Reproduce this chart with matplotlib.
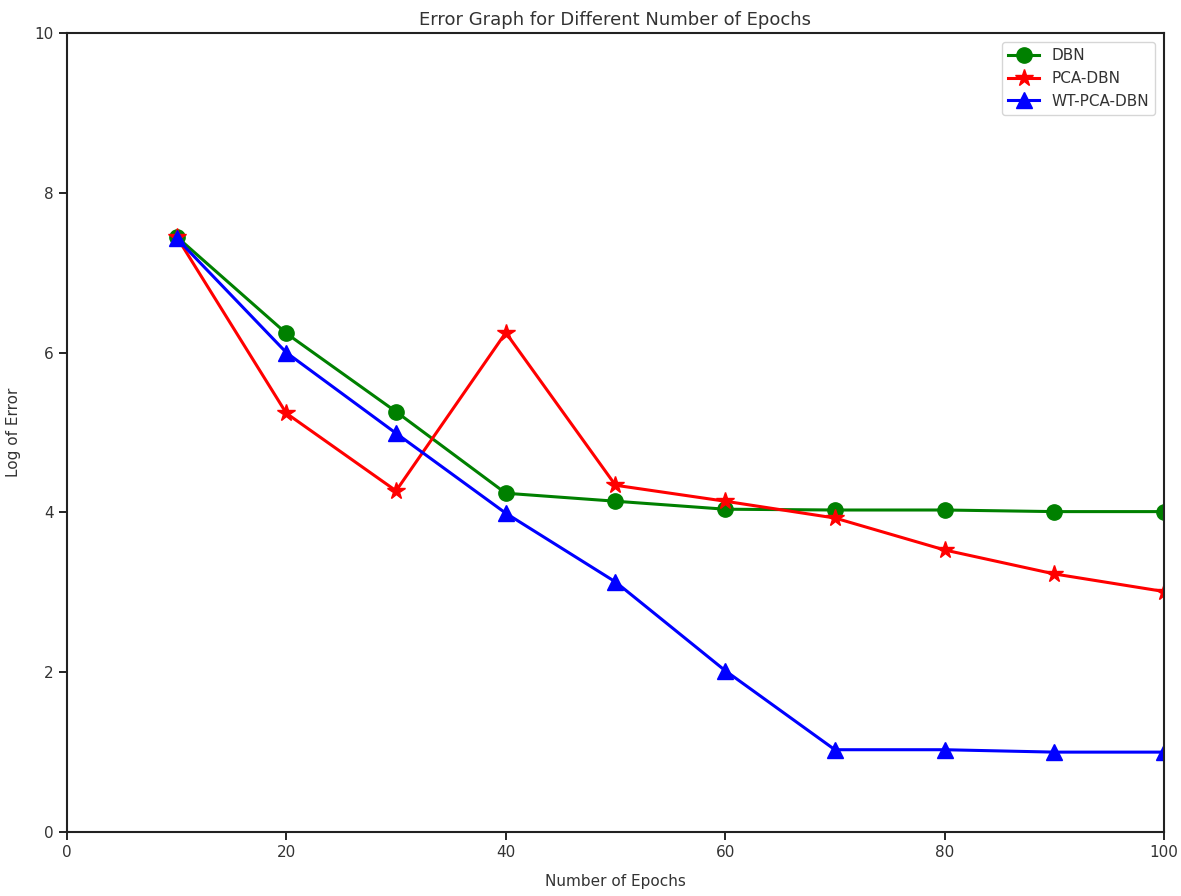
import matplotlib
matplotlib.use("Agg")
import matplotlib.pyplot as plt

epochs = [10, 20, 30, 40, 50, 60, 70, 80, 90, 100]
dbn = [7.45, 6.24, 5.26, 4.24, 4.14, 4.04, 4.03, 4.03, 4.01, 4.01]
pca_dbn = [7.45, 5.24, 4.27, 6.25, 4.34, 4.14, 3.93, 3.53, 3.23, 3.01]
wt_pca_dbn = [7.43, 6.0, 4.99, 3.99, 3.13, 2.02, 1.03, 1.03, 1.0, 1.0]

plt.rcParams['font.family'] = ['DejaVu Sans']
plt.rcParams['text.color'] = '#333333'
plt.rcParams['axes.labelcolor'] = '#333333'
plt.rcParams['xtick.labelcolor'] = '#333333'
plt.rcParams['ytick.labelcolor'] = '#333333'
fig = plt.figure(figsize=(11.81, 8.96), dpi=100)
ax = fig.add_axes([0.0567, 0.0714, 0.9289, 0.8918])

ax.plot(epochs, dbn, color='green', marker='o', markersize=11, linewidth=2.2, label='DBN')
ax.plot(epochs, pca_dbn, color='red', marker='*', markersize=13, linewidth=2.2, label='PCA-DBN')
ax.plot(epochs, wt_pca_dbn, color='blue', marker='^', markersize=11, linewidth=2.2, label='WT-PCA-DBN')

ax.set_xlim(0, 100)
ax.set_ylim(0, 10)
ax.set_xticks([0, 20, 40, 60, 80, 100])
ax.set_yticks([0, 2, 4, 6, 8, 10])
ax.tick_params(labelsize=11, length=6, width=1.2)
for s in ax.spines.values():
    s.set_linewidth(1.5)
    s.set_color('#222222')
ax.set_title('Error Graph for Different Number of Epochs', fontsize=13, pad=6)
ax.set_xlabel('Number of Epochs', fontsize=11, labelpad=10)
ax.set_ylabel('Log of Error', fontsize=11, labelpad=10)
ax.legend(loc='upper right', fontsize=11, borderaxespad=0.6)

fig.savefig('out.png', dpi=100)
